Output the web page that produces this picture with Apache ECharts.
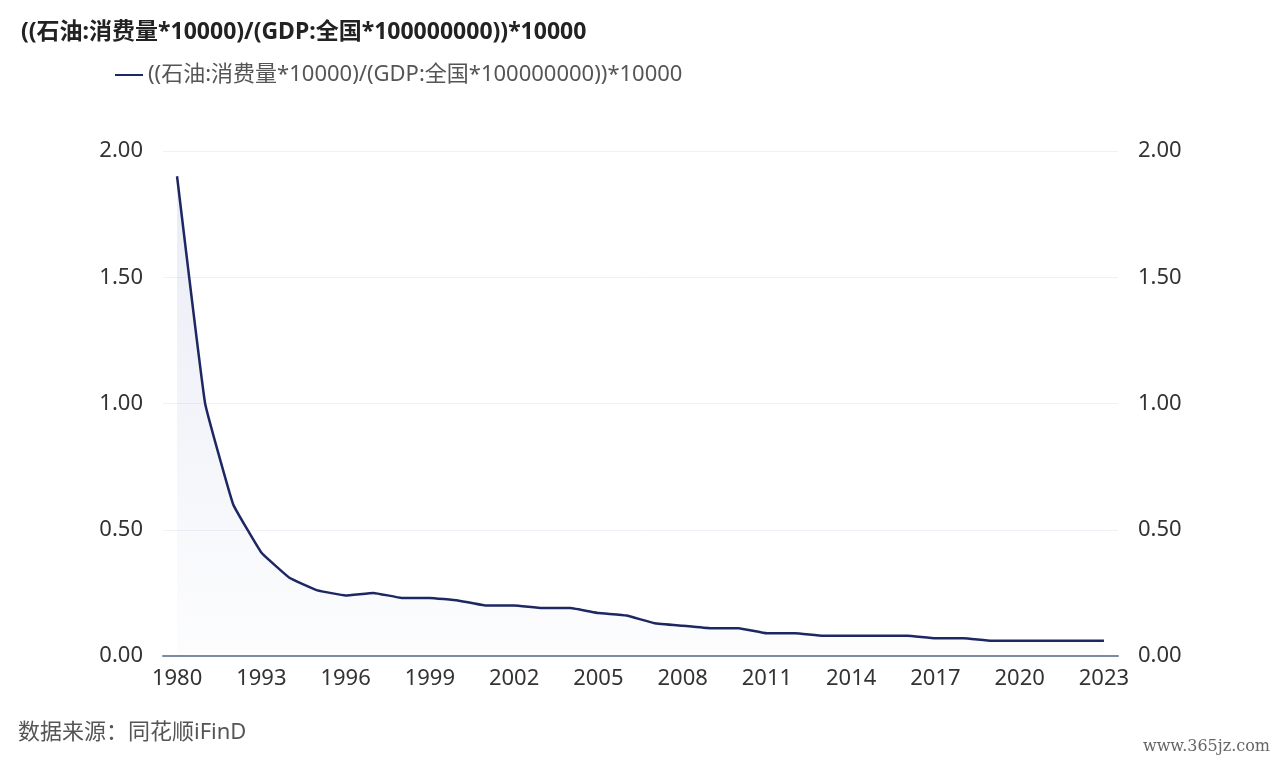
<!DOCTYPE html>
<html>
<head>
<meta charset="utf-8">
<script src="https://cdn.jsdelivr.net/npm/echarts@6/dist/echarts.min.js"></script>
<style>
  html, body { margin: 0; padding: 0; background: #fff; }
  #main { width: 1280px; height: 764px; }
</style>
</head>
<body>
<div id="main"></div>
<script>
const seriesName = '((石油:消费量*10000)/(GDP:全国*100000000))*10000';
const years = ['1980', '1985', '1990', '1993', '1994', '1995', '1996', '1997', '1998', '1999',
  '2000', '2001', '2002', '2003', '2004', '2005', '2006', '2007', '2008', '2009',
  '2010', '2011', '2012', '2013', '2014', '2015', '2016', '2017', '2018', '2019',
  '2020', '2021', '2022', '2023'];
const values = [1.90, 1.00, 0.60, 0.41, 0.31, 0.26, 0.24, 0.25, 0.23, 0.23,
  0.22, 0.20, 0.20, 0.19, 0.19, 0.17, 0.16, 0.13, 0.12, 0.11,
  0.11, 0.09, 0.09, 0.08, 0.08, 0.08, 0.08, 0.07, 0.07, 0.06,
  0.06, 0.06, 0.06, 0.06];
const yTicks = { min: 0, max: 2, interval: 0.5 };

const chart = echarts.init(document.getElementById('main'));
const font = '"Noto Sans", "Noto Sans CJK SC", sans-serif';

// 左右两侧 y 轴共用同一刻度
function yAxis(pos, showGrid) {
  return {
    type: 'value',
    position: pos,
    min: yTicks.min,
    max: yTicks.max,
    interval: yTicks.interval,
    axisLine: { show: false },
    axisTick: { show: false },
    splitLine: { show: showGrid, lineStyle: { color: '#eff1f7', width: 1 } },
    axisLabel: {
      color: '#333',
      fontSize: 22,
      fontFamily: font,
      margin: 20,
      formatter: v => v.toFixed(2)
    }
  };
}

const option = {
  backgroundColor: '#fff',
  animation: false,
  title: {
    text: seriesName,
    left: 16,
    top: 16,
    textStyle: { color: '#222', fontSize: 23, fontWeight: 'bold', fontFamily: font }
  },
  legend: {
    left: 110,
    top: 59,
    icon: 'rect',
    itemWidth: 28,
    itemHeight: 2,
    itemGap: 10,
    textStyle: { color: '#555', fontSize: 22, fontFamily: font },
    data: [seriesName]
  },
  grid: { left: 163, right: 162, top: 151, bottom: 108, containLabel: false },
  xAxis: {
    type: 'category',
    data: years,
    boundaryGap: true,
    axisLine: { lineStyle: { color: '#7d8aa3', width: 2 } },
    axisTick: { show: false },
    axisLabel: { interval: 2, color: '#333', fontSize: 22, fontFamily: font, margin: 12 }
  },
  yAxis: [yAxis('left', true), yAxis('right', false)],
  series: [{
    name: seriesName,
    type: 'line',
    data: values,
    symbol: 'none',
    smooth: 0.08,
    lineStyle: { color: '#1d2862', width: 2.5 },
    itemStyle: { color: '#1d2862' },
    areaStyle: {
      color: new echarts.graphic.LinearGradient(0, 0, 0, 1, [
        { offset: 0, color: 'rgba(70, 90, 170, 0.16)' },
        { offset: 1, color: 'rgba(70, 90, 170, 0.02)' }
      ])
    }
  }],
  graphic: [
    {
      type: 'text',
      left: 18,
      top: 722,
      style: { text: '数据来源：同花顺iFinD', fill: '#555', font: '22px ' + font }
    },
    {
      type: 'text',
      right: 10,
      top: 739,
      style: { text: 'www.365jz.com', fill: '#666', font: '16px "DejaVu Serif", serif' }
    }
  ]
};
chart.setOption(option);
</script>
</body>
</html>
